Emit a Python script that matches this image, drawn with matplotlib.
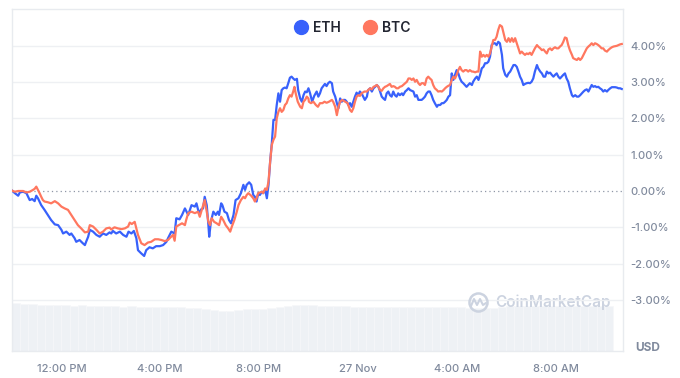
import matplotlib
matplotlib.use("Agg")
import matplotlib.pyplot as plt
from matplotlib.lines import Line2D

plt.rcParams['font.family'] = ['Inter', 'DejaVu Sans']

# ---- data (time = minutes since 10:00 AM, 26 Nov; values = % change) ----
eth_t = [0, 7, 15, 19, 27, 35, 43, 49, 55, 59, 63, 71, 79, 87, 95, 104, 112, 120, 124, 132,
         140, 144, 152, 156, 164, 172, 177, 180, 185, 189, 197, 205, 213, 221, 229, 237, 241, 245, 253, 262,
         270, 278, 283, 290, 296, 302, 306, 314, 321, 326, 334, 342, 350, 359, 367, 375, 379, 387, 395, 399,
         407, 413, 420, 428, 436, 444, 448, 454, 460, 464, 468, 473, 477, 479, 483, 489, 495, 500, 503, 508,
         511, 516, 522, 527, 532, 538, 543, 550, 556, 562, 566, 570, 576, 581, 586, 590, 594, 598, 602, 607,
         610, 615, 619, 623, 627, 631, 635, 639, 643, 647, 651, 655, 659, 663, 667, 671, 675, 679, 683, 687,
         692, 695, 700, 704, 708, 712, 716, 720, 724, 729, 734, 740, 744, 748, 752, 756, 760, 764, 768, 772,
         777, 780, 785, 789, 793, 797, 801, 805, 809, 813, 817, 821, 825, 829, 833, 837, 841, 845, 849, 853,
         857, 862, 865, 870, 874, 878, 882, 886, 890, 894, 898, 902, 906, 910, 914, 918, 922, 926, 930, 934,
         938, 942, 947, 950, 955, 959, 963, 967, 975, 979, 983, 987, 995, 999, 1003, 1007, 1011, 1015, 1019, 1023,
         1027, 1032, 1035, 1040, 1044, 1048, 1052, 1056, 1060, 1064, 1068, 1072, 1076, 1080, 1084, 1088, 1092, 1096, 1100, 1104,
         1108, 1112, 1117, 1120, 1125, 1129, 1133, 1137, 1141, 1145, 1149, 1153, 1157, 1161, 1165, 1169, 1173, 1177, 1181, 1185,
         1190, 1193, 1198, 1202, 1206, 1210, 1214, 1218, 1222, 1226, 1230, 1234, 1238, 1242, 1246, 1250, 1254, 1258, 1262, 1266,
         1270, 1275, 1278, 1283, 1287, 1291, 1295, 1299, 1303, 1307, 1311, 1315, 1319, 1323, 1327, 1331, 1335, 1339, 1343, 1347,
         1351, 1355, 1360, 1363, 1368, 1372, 1376, 1380, 1384, 1388, 1392, 1396, 1400, 1404, 1408, 1412, 1416, 1420, 1424, 1428,
         1432, 1436, 1440, 1445, 1448, 1453, 1457, 1461, 1465, 1469, 1473, 1477, 1481]
eth_v = [0.01, -0.06, -0.13, -0.04, -0.02, -0.06, -0.25, -0.22, -0.28, -0.13, -0.20, -0.39, -0.52, -0.66, -0.80, -0.92, -0.94, -1.07, -1.17, -1.12,
         -1.21, -1.17, -1.30, -1.40, -1.35, -1.44, -1.49, -1.40, -1.26, -1.07, -1.12, -1.21, -1.26, -1.17, -1.21, -1.14, -1.17, -1.10, -1.17, -1.12,
         -1.21, -1.26, -1.12, -1.17, -1.10, -1.30, -1.63, -1.72, -1.79, -1.63, -1.55, -1.58, -1.52, -1.52, -1.49, -1.40, -1.30, -1.12, -1.17, -0.75,
         -0.78, -0.66, -0.48, -0.66, -0.39, -0.43, -0.34, -0.61, -0.50, -0.48, -0.16, -0.39, -0.94, -1.26, -0.85, -0.57, -0.66, -0.57, -0.66, -0.34,
         -0.39, -0.57, -0.61, -0.80, -0.89, -0.66, -0.25, -0.20, -0.06, 0.17, 0.03, 0.17, 0.24, 0.17, -0.11, -0.16, -0.29, -0.06, -0.11, -0.02,
         -0.06, 0.03, -0.20, 0.17, 0.81, 1.31, 1.96, 1.96, 2.37, 2.69, 2.46, 2.78, 2.83, 2.85, 2.83, 2.97, 3.12, 3.15, 3.10, 3.06,
         3.09, 2.78, 2.55, 2.46, 2.64, 2.74, 2.72, 2.83, 2.69, 2.46, 2.62, 2.74, 2.60, 2.69, 2.83, 2.89, 2.95, 2.89, 2.97, 3.01,
         2.97, 2.74, 2.60, 2.42, 2.28, 2.55, 2.46, 2.51, 2.51, 2.46, 2.37, 2.42, 2.32, 2.46, 2.60, 2.71, 2.64, 2.74, 2.69, 2.60,
         2.51, 2.60, 2.78, 2.83, 2.74, 2.83, 2.87, 2.92, 2.87, 2.74, 2.60, 2.55, 2.51, 2.69, 2.74, 2.64, 2.60, 2.74, 2.64, 2.60,
         2.69, 2.64, 2.69, 2.64, 2.74, 2.78, 2.83, 2.78, 2.74, 2.60, 2.64, 2.51, 2.51, 2.55, 2.60, 2.69, 2.74, 2.74, 2.64, 2.51,
         2.42, 2.32, 2.37, 2.37, 2.42, 2.42, 2.46, 2.51, 2.60, 2.64, 3.24, 3.06, 3.20, 3.33, 3.24, 3.10, 3.01, 2.97, 2.92, 2.87,
         2.92, 2.97, 2.92, 3.01, 3.10, 3.15, 3.06, 3.20, 3.38, 3.42, 3.52, 3.52, 3.56, 3.70, 4.02, 4.07, 4.07, 4.02, 4.11, 4.07,
         3.75, 3.38, 3.20, 3.15, 3.24, 3.29, 3.38, 3.47, 3.47, 3.42, 3.29, 3.15, 3.06, 2.92, 2.95, 2.97, 2.98, 2.97, 3.01, 3.10,
         3.29, 3.47, 3.38, 3.29, 3.24, 3.15, 3.15, 3.29, 3.24, 3.26, 3.20, 3.15, 3.20, 3.24, 3.15, 3.10, 3.15, 3.20, 3.24, 3.10,
         3.01, 2.83, 2.64, 2.60, 2.64, 2.60, 2.60, 2.64, 2.69, 2.74, 2.78, 2.80, 2.74, 2.83, 2.92, 2.87, 2.89, 2.86, 2.87, 2.83,
         2.80, 2.74, 2.78, 2.74, 2.78, 2.83, 2.86, 2.86, 2.86, 2.85, 2.83, 2.83, 2.81]

btc_t = [0, 7, 15, 27, 35, 43, 51, 55, 59, 63, 67, 71, 75, 79, 87, 95, 104, 112, 120, 128,
         136, 144, 152, 160, 168, 177, 185, 189, 197, 205, 213, 221, 229, 237, 241, 249, 257, 266, 274, 282,
         286, 291, 298, 302, 306, 314, 322, 330, 338, 347, 355, 363, 371, 379, 383, 391, 395, 399, 405, 413,
         420, 423, 428, 436, 444, 452, 456, 462, 468, 473, 477, 481, 485, 491, 497, 503, 508, 513, 519, 525,
         530, 534, 540, 546, 550, 556, 562, 566, 570, 574, 581, 586, 590, 594, 598, 607, 610, 615, 619, 623,
         627, 631, 635, 639, 643, 647, 651, 655, 659, 663, 667, 671, 675, 679, 683, 686, 689, 694, 700, 704,
         708, 712, 716, 720, 721, 726, 732, 738, 743, 748, 754, 759, 764, 770, 777, 780, 785, 789, 793, 797,
         802, 809, 815, 821, 825, 829, 833, 837, 841, 845, 849, 856, 862, 865, 870, 874, 878, 882, 886, 890,
         894, 898, 902, 906, 910, 914, 918, 922, 926, 930, 934, 938, 942, 947, 950, 955, 959, 963, 967, 971,
         975, 979, 983, 987, 991, 995, 999, 1003, 1007, 1011, 1015, 1019, 1023, 1027, 1032, 1035, 1040, 1044, 1048, 1052,
         1056, 1060, 1064, 1068, 1072, 1076, 1080, 1084, 1088, 1092, 1096, 1100, 1104, 1108, 1112, 1117, 1120, 1125, 1129, 1133,
         1137, 1141, 1145, 1149, 1153, 1157, 1161, 1165, 1169, 1173, 1177, 1181, 1185, 1190, 1193, 1198, 1202, 1206, 1210, 1214,
         1218, 1222, 1226, 1230, 1234, 1238, 1242, 1246, 1250, 1254, 1258, 1262, 1266, 1270, 1275, 1278, 1283, 1287, 1291, 1295,
         1299, 1303, 1307, 1311, 1315, 1319, 1323, 1327, 1331, 1335, 1339, 1343, 1347, 1351, 1355, 1360, 1363, 1368, 1372, 1376,
         1380, 1384, 1388, 1392, 1396, 1400, 1404, 1408, 1412, 1416, 1420, 1424, 1428, 1432, 1436, 1440, 1445, 1448, 1453, 1457,
         1461, 1465, 1469, 1473, 1477, 1481]
btc_v = [0.01, -0.02, 0.00, 0.00, -0.04, -0.02, 0.03, 0.06, 0.12, 0.03, -0.06, -0.16, -0.25, -0.29, -0.31, -0.34, -0.28, -0.34, -0.43, -0.48,
         -0.52, -0.66, -0.80, -0.94, -1.03, -1.14, -1.12, -0.94, -0.98, -1.07, -1.17, -1.12, -1.03, -1.01, -1.06, -1.00, -1.03, -1.05, -1.03, -0.98,
         -0.87, -0.91, -0.85, -1.03, -1.21, -1.44, -1.49, -1.42, -1.40, -1.33, -1.33, -1.35, -1.38, -1.35, -1.30, -1.21, -1.37, -0.98, -0.94, -0.89,
         -0.94, -0.80, -0.61, -0.57, -0.61, -0.57, -0.71, -0.48, -0.25, -0.57, -0.85, -0.94, -0.75, -0.85, -0.89, -0.94, -0.71, -0.80, -0.94, -1.03,
         -1.12, -0.98, -0.80, -0.57, -0.39, -0.25, -0.16, -0.20, -0.11, -0.06, -0.13, -0.20, -0.29, -0.20, -0.06, -0.02, -0.06, 0.07, 0.03, 0.26,
         0.81, 1.27, 1.41, 1.50, 2.00, 2.18, 2.28, 2.18, 2.23, 2.37, 2.42, 2.55, 2.64, 2.60, 2.74, 2.87, 2.69, 2.46, 2.32, 2.28,
         2.46, 2.51, 2.60, 2.55, 2.46, 2.42, 2.46, 2.37, 2.32, 2.42, 2.42, 2.46, 2.43, 2.46, 2.51, 2.46, 2.32, 2.09, 2.32, 2.46,
         2.51, 2.46, 2.42, 2.23, 2.18, 2.28, 2.46, 2.60, 2.64, 2.62, 2.69, 2.74, 2.74, 2.78, 2.83, 2.80, 2.87, 2.89, 2.92, 2.87,
         2.78, 2.76, 2.83, 2.87, 2.89, 2.92, 2.95, 2.87, 2.89, 2.87, 2.83, 2.83, 2.87, 2.89, 2.92, 2.97, 3.01, 3.10, 3.10, 3.06,
         3.10, 3.01, 3.06, 2.97, 2.92, 2.97, 2.97, 2.92, 3.10, 3.15, 3.10, 3.06, 2.92, 2.83, 2.78, 2.74, 2.75, 2.74, 2.78, 2.83,
         2.87, 2.90, 2.92, 3.06, 3.15, 3.10, 3.20, 3.33, 3.42, 3.33, 3.29, 3.33, 3.33, 3.29, 3.33, 3.29, 3.29, 3.27, 3.29, 3.29,
         3.84, 3.70, 3.75, 3.70, 3.75, 3.70, 3.79, 3.98, 4.16, 4.16, 4.25, 4.44, 4.57, 4.53, 4.39, 4.16, 4.11, 4.21, 4.11, 4.21,
         4.11, 4.21, 4.07, 3.93, 3.79, 3.84, 3.79, 3.75, 3.79, 3.77, 3.81, 3.75, 3.84, 3.93, 4.02, 3.98, 3.93, 3.88, 3.90, 3.84,
         3.79, 3.90, 3.93, 3.88, 3.93, 3.96, 3.93, 3.93, 3.98, 4.02, 4.11, 4.23, 4.21, 4.02, 3.88, 3.75, 3.66, 3.63, 3.61, 3.66,
         3.61, 3.66, 3.75, 3.84, 3.93, 3.98, 4.02, 4.07, 4.02, 4.07, 4.05, 4.02, 3.98, 3.93, 3.93, 3.87, 3.84, 3.88, 3.93, 3.96,
         3.98, 3.99, 4.00, 4.02, 4.04, 4.05]

# volume (relative units), one bar per 20 minutes from 10:00 AM
vol = [48, 47.5, 47, 46.5, 46.5, 46, 46, 45.5, 46, 45.5, 45.5, 45, 45, 44.5, 45, 44.5, 44.5, 44.5, 44.5, 44,
       44, 43.5, 43.5, 42.5, 41.5, 40.5, 40, 41, 42, 42.5, 42.5, 43, 44, 45.5, 46, 46, 46, 45.5, 45.5, 45.5,
       45, 44.5, 44.5, 44.5, 44.5, 44.5, 44.5, 44.5, 44.5, 44, 44, 44, 44, 44, 44, 43.5, 43, 43, 43.5, 44.5,
       45.5, 45.5, 45.5, 45.5, 45.5, 45.5, 45.5, 45.5, 45.5, 45.5, 45, 45, 45]
vol_step = 20

series_names = ['ETH', 'BTC']
series_colors = ['#3861FB', '#FF775F']

xtick_pos = [120, 360, 600, 840, 1080, 1320]
xtick_labels = ['12:00 PM', '4:00 PM', '8:00 PM', '27 Nov', '4:00 AM', '8:00 AM']
ytick_vals = [4, 3, 2, 1, 0, -1, -2, -3]
ytick_labels = ['4.00%', '3.00%', '2.00%', '1.00%', '0.00%', '-1.00%', '-2.00%', '-3.00%']

# ---- figure ----
W, H = 680, 378
fig = plt.figure(figsize=(W / 100, H / 100), dpi=100)
ax = fig.add_axes([12 / W, 1 - 351 / H, (623 - 12) / W, (351 - 9) / H])
axv = ax.twinx()
ax.set_zorder(axv.get_zorder() + 1)
ax.patch.set_visible(False)

vol_t = [i * vol_step for i in range(len(vol))]
axv.bar(vol_t, vol, width=vol_step, align='edge', color='#EEF1F5',
        edgecolor='#F6F7F9', linewidth=0.5)
axv.set_ylim(0, 342)
axv.set_yticks([])
for s in axv.spines.values():
    s.set_visible(False)

# grid lines
for v in ytick_vals:
    if v == 0:
        ax.axhline(v, color='#8F96A6', lw=0.9, ls=(0, (1, 2.5)), zorder=1)
    else:
        ax.axhline(v, color='#EEF0F3', lw=1.0, zorder=1)

ax.plot(eth_t, eth_v, color=series_colors[0], lw=1.6, zorder=3, solid_joinstyle='round')
ax.plot(btc_t, btc_v, color=series_colors[1], lw=1.6, zorder=4, solid_joinstyle='round')

ax.set_xlim(0, 1484)
ax.set_ylim(-4.408, 5.014)

ax.yaxis.tick_right()
ax.set_yticks(ytick_vals)
ax.set_yticklabels(ytick_labels)
ax.set_xticks(xtick_pos)
ax.set_xticklabels(xtick_labels)
ax.tick_params(axis='y', length=0, pad=5, labelsize=8, labelcolor='#808A9D')
ax.tick_params(axis='x', length=0, pad=9, labelsize=8, labelcolor='#808A9D')
for lab in ax.get_yticklabels() + ax.get_xticklabels():
    lab.set_fontweight('medium')
for s in ax.spines.values():
    s.set_color('#E8EBEF')
    s.set_linewidth(1.0)

fig.text(648 / W, 1 - 348 / H, 'USD', ha='center', va='center', fontsize=8.5,
         fontweight='bold', color='#808A9D')

# legend
handles = [Line2D([], [], ls='none', marker='o', markersize=10, color=c) for c in series_colors]
fig.legend(handles, series_names, loc='center', bbox_to_anchor=(353 / W, 1 - 28 / H),
           ncol=2, frameon=False, handlelength=0.8, handletextpad=0.5, columnspacing=1.7,
           prop={'size': 10, 'weight': 'semibold'}, labelcolor='#222531')

# watermark
wm = '#CCD3E0'
fig.text(553 / W, 1 - 302 / H, 'CoinMarketCap', ha='center', va='center', fontsize=11,
         fontweight='semibold', color=wm, zorder=0)
fig.lines.append(Line2D([478 / W], [1 - 302 / H], transform=fig.transFigure, marker='o',
                        markersize=13, mfc='none', mec=wm, mew=1.8, ls='none'))
fig.lines.append(Line2D([471 / W, 474 / W, 477 / W, 480 / W, 483 / W, 486 / W],
                        [1 - 306 / H, 1 - 299 / H, 1 - 305 / H, 1 - 299 / H, 1 - 305 / H, 1 - 303 / H],
                        transform=fig.transFigure, color=wm, lw=1.5, solid_joinstyle='round',
                        solid_capstyle='round'))

fig.savefig('out.png', dpi=100)
